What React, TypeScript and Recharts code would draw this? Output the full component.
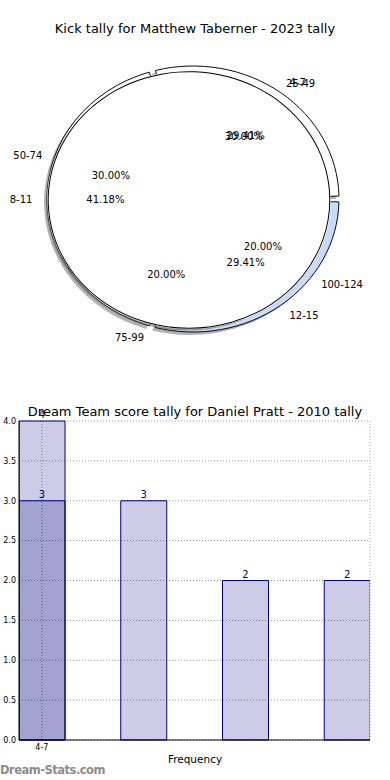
import {
  Bar,
  BarChart,
  CartesianGrid,
  Cell,
  LabelList,
  Pie,
  PieChart,
  XAxis,
  YAxis,
} from "recharts";

const pieTitle = "Kick tally for Matthew Taberner - 2023 tally";
const kickCategories = ["4-7", "8-11", "12-15"];
const kickValues = [5, 7, 5];
const kickColors = ["#ffffff", "#ffffff", "#c8dbfa"];

const scoreCategories = ["25-49", "50-74", "75-99", "100-124"];
const scoreValues = [3, 3, 2, 2];

const barTitle = "Dream Team score tally for Daniel Pratt - 2010 tally";
const barTickLabels = ["4-7"];
const barSeriesA = [4, null, null, null];
const barSeriesB = [3, 3, 2, 2];
const yTicks = [0, 0.5, 1, 1.5, 2, 2.5, 3, 3.5, 4];

const FONT = "'DejaVu Sans', sans-serif";
const SQUASH = 0.911; // matplotlib pie drawn without equal aspect -> ellipse
const BAR_W = 0.45;
const NAVY = "#000080";

const kickData = kickCategories.map((name, i) => ({ name, value: kickValues[i] }));
const scoreData = scoreCategories.map((name, i) => ({ name, value: scoreValues[i] }));

const barRows = barSeriesB.map((b, i) => ({
  x: i + BAR_W / 2,
  a: barSeriesA[i],
  b,
}));

// label renderer: name outside at 1.1r, percent inside at 0.6r
const makeLabel =
  (names: string[], lcx: number, lcy: number, lr: number) => (p: any) => {
    const ang = (p.midAngle * Math.PI) / 180;
    const cos = Math.cos(ang);
    const sin = Math.sin(ang);
    return (
      <g>
        <text
          x={lcx + 1.1 * lr * cos}
          y={lcy - 1.1 * lr * SQUASH * sin}
          textAnchor={cos >= 0 ? "start" : "end"}
          dominantBaseline="central"
          fontSize={10}
          fontFamily={FONT}
          fill="#000"
        >
          {names[p.index]}
        </text>
        <text
          x={lcx + 0.6 * lr * cos}
          y={lcy - 0.6 * lr * SQUASH * sin}
          textAnchor="middle"
          dominantBaseline="central"
          fontSize={10}
          fontFamily={FONT}
          fill="#000"
        >
          {(p.percent * 100).toFixed(2)}%
        </text>
      </g>
    );
  };

const css = `
.pa-shadow .recharts-sector { transform-origin: 190px 202px; transform: scaleY(${SQUASH}); }
.pa .recharts-sector { transform-origin: 193px 199px; transform: scaleY(${SQUASH}); }
.pb-shadow .recharts-sector { transform-origin: 187px 202px; transform: scaleY(${SQUASH}); }
.pb .recharts-sector { transform-origin: 189px 200px; transform: scaleY(${SQUASH}); }
`;

export default function App() {
  return (
    <div
      style={{
        position: "fixed",
        left: 0,
        top: 0,
        width: 390,
        height: 780,
        background: "#fff",
        fontFamily: FONT,
      }}
    >
      <style>{css}</style>

      <div style={{ position: "absolute", top: 21, left: 0, width: 390, textAlign: "center", fontSize: 13 }}>
        {pieTitle}
      </div>

      <div style={{ position: "absolute", top: 0, left: 0 }}>
        <PieChart width={390} height={400} margin={{ top: 0, right: 0, bottom: 0, left: 0 }}>
          <Pie
            className="pa-shadow"
            data={kickData}
            dataKey="value"
            cx={190}
            cy={202}
            outerRadius={146}
            startAngle={1.25}
            endAngle={361.25}
            paddingAngle={2.5}
            fill="#666"
            fillOpacity={0.5}
            stroke="none"
            isAnimationActive={false}
            label={false}
            labelLine={false}
          />
          <Pie
            className="pa"
            data={kickData}
            dataKey="value"
            cx={193}
            cy={199}
            outerRadius={146}
            startAngle={1.25}
            endAngle={361.25}
            paddingAngle={2.5}
            stroke="#000"
            strokeWidth={1}
            isAnimationActive={false}
            label={makeLabel(kickCategories, 193, 199, 146)}
            labelLine={false}
          >
            {kickData.map((d, i) => (
              <Cell key={d.name} fill={kickColors[i]} />
            ))}
          </Pie>
          <Pie
            className="pb-shadow"
            data={scoreData}
            dataKey="value"
            cx={187}
            cy={202}
            outerRadius={141}
            startAngle={0}
            endAngle={360}
            fill="#555"
            fillOpacity={0.55}
            stroke="none"
            isAnimationActive={false}
            label={false}
            labelLine={false}
          />
          <Pie
            className="pb"
            data={scoreData}
            dataKey="value"
            cx={189}
            cy={200}
            outerRadius={141}
            startAngle={0}
            endAngle={360}
            fill="#fff"
            stroke="#fff"
            strokeWidth={1.5}
            isAnimationActive={false}
            label={makeLabel(scoreCategories, 193, 200, 144)}
            labelLine={false}
          />
          <Pie
            className="pb"
            data={scoreData}
            dataKey="value"
            cx={189}
            cy={200}
            innerRadius={140.3}
            outerRadius={141.3}
            startAngle={0}
            endAngle={360}
            fill="#000"
            stroke="none"
            isAnimationActive={false}
            label={false}
            labelLine={false}
          />
        </PieChart>
      </div>

      <div style={{ position: "absolute", top: 400, left: 0 }}>
        <BarChart
          width={390}
          height={380}
          data={barRows}
          margin={{ top: 21, right: 20, bottom: 20, left: 0 }}
        >
          <CartesianGrid xAxisId="main" stroke="#999" strokeDasharray="1 2" />
          <XAxis
            xAxisId="main"
            type="number"
            dataKey="x"
            domain={[0, barRows.length - 1 + BAR_W]}
            allowDataOverflow
            ticks={barTickLabels.map((_, i) => i + BAR_W / 2)}
            tickFormatter={(v: number) => barTickLabels[Math.round(v - BAR_W / 2)] ?? ""}
            height={20}
            tickSize={0}
            tickMargin={4}
            axisLine={{ stroke: "#000" }}
            tick={{ fontSize: 8, fill: "#000", fontFamily: FONT }}
          />
          <XAxis
            xAxisId="top"
            orientation="top"
            type="number"
            dataKey="x"
            domain={[0, barRows.length - 1 + BAR_W]}
            allowDataOverflow
            height={0}
            tick={false}
            tickLine={false}
            axisLine={{ stroke: "#000" }}
          />
          <YAxis
            domain={[0, 4]}
            ticks={yTicks}
            width={19}
            tickSize={0}
            tickMargin={3}
            tickFormatter={(v: number) => v.toFixed(1)}
            axisLine={{ stroke: "#000" }}
            tick={{ fontSize: 8, fill: "#000", fontFamily: FONT }}
          />
          <YAxis
            yAxisId="right"
            orientation="right"
            domain={[0, 4]}
            width={0}
            tick={false}
            tickLine={false}
            axisLine={{ stroke: "#000" }}
          />
          <Bar
            xAxisId="main"
            dataKey="a"
            barSize={46}
            fill={NAVY}
            fillOpacity={0.2}
            stroke={NAVY}
            strokeWidth={1}
            isAnimationActive={false}
          >
            <LabelList dataKey="a" position="top" offset={3} fill={NAVY} fontSize={10} fontFamily={FONT} />
          </Bar>
          <Bar
            xAxisId="top"
            dataKey="b"
            barSize={46}
            fill={NAVY}
            fillOpacity={0.2}
            stroke={NAVY}
            strokeWidth={1}
            isAnimationActive={false}
          >
            <LabelList dataKey="b" position="top" offset={3} fill={NAVY} fontSize={10} fontFamily={FONT} />
          </Bar>
        </BarChart>
      </div>

      <div style={{ position: "absolute", top: 404, left: 0, width: 390, textAlign: "center", fontSize: 13 }}>
        {barTitle}
      </div>
      <div style={{ position: "absolute", top: 753, left: 0, width: 390, textAlign: "center", fontSize: 10.5 }}>
        Frequency
      </div>
      <div style={{ position: "absolute", top: 763, left: 0, fontSize: 11.5, color: "#8c8c8c", fontWeight: "bold", fontFamily: "Verdana, 'DejaVu Sans', sans-serif", letterSpacing: -0.5 }}>
        Dream-Stats.com
      </div>
    </div>
  );
}
